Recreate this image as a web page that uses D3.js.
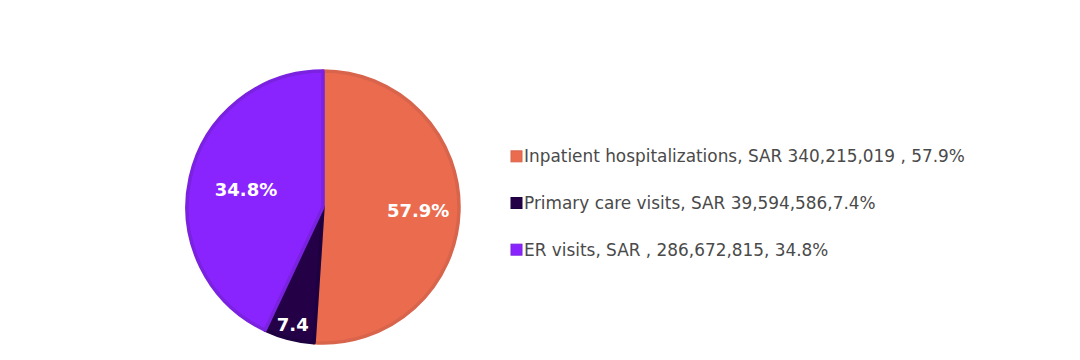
<!DOCTYPE html>
<html><head><meta charset="utf-8">
<script src="https://cdn.jsdelivr.net/npm/d3@7"></script>
<style>body{margin:0;background:#fff}</style>
</head><body>
<svg id="c" width="1080" height="360"></svg>
<script>
const categories = ["Inpatient hospitalizations", "Primary care visits", "ER visits"];
const values = [340215019, 39594586, 286672815];
const sliceText = ["57.9%", "7.4", "34.8%"];
const legendLabels = [
  "Inpatient hospitalizations, SAR 340,215,019 , 57.9%",
  "Primary care visits, SAR 39,594,586,7.4%",
  "ER visits, SAR , 286,672,815, 34.8%"
];
const colors = ["#EB6B4F", "#240046", "#8A24FF"];
const strokeColors = ["#D8644C", "#1E0040", "#7A22E0"];
const labelRadiusFrac = [0.70, 0.89, 0.58];

const svg = d3.select("#c");
const cx = 323, cy = 207, R = 136;
const g = svg.append("g").attr("transform", `translate(${cx},${cy})`);
const pie = d3.pie().sort(null).value(d => d)(values);
const arc = d3.arc().innerRadius(0).outerRadius(R);
g.selectAll("path.s").data(pie).join("path")
  .attr("d", arc)
  .attr("fill", (d,i) => colors[i])
  .attr("stroke", (d,i) => strokeColors[i])
  .attr("stroke-width", 3.5)
  .attr("stroke-linejoin", "round");
g.selectAll("text.l").data(pie).join("text")
  .attr("transform", (d,i) => {
    const a = (d.startAngle + d.endAngle) / 2;
    const r = R * labelRadiusFrac[i];
    return `translate(${Math.sin(a)*r},${-Math.cos(a)*r})`;
  })
  .attr("text-anchor", "middle").attr("dy", "0.36em")
  .attr("font-family", "DejaVu Sans, Verdana, sans-serif")
  .attr("font-weight", "bold").attr("font-size", 18)
  .attr("fill", "#fff")
  .text((d,i) => sliceText[i]);

const leg = svg.append("g");
const ly = d3.scaleBand().domain(categories).range([133, 273]);
categories.forEach((c, i) => {
  const y = ly(c) + ly.bandwidth()/2;
  leg.append("rect").attr("x", 511).attr("y", y - 5.5).attr("width", 11).attr("height", 11)
    .attr("fill", colors[i]).attr("stroke", strokeColors[i]).attr("stroke-width", 1);
  leg.append("text").attr("x", 524).attr("y", y).attr("dy", "0.36em")
    .attr("font-family", "DejaVu Sans, Verdana, sans-serif").attr("font-size", 16.9)
    .attr("fill", "#4a4a4a").text(legendLabels[i]);
});
</script>
</body></html>
